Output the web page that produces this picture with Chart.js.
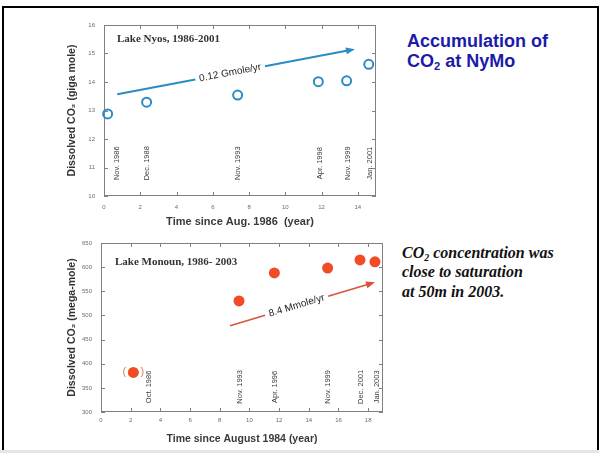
<!DOCTYPE html>
<html>
<head>
<meta charset="utf-8">
<script src="https://cdn.jsdelivr.net/npm/chart.js@4"></script>
<style>
    body { margin: 0; background: #fff; }
    #page { position: relative; width: 599px; height: 453px; overflow: hidden; background: #fff; }
    .frame { position: absolute; left: 2px; top: 6px; width: 593px; height: 450px; border: 2px solid #000; border-bottom: none; }
    .strip { position: absolute; left: 0; top: 450px; width: 599px; height: 3px; background: #e6e6e6; }
    canvas { position: absolute; left: 0; }
    #nyos { top: 0; }
    #monoun { top: 230px; }
    .heading { position: absolute; left: 407px; top: 31px; font: bold 18px "Liberation Sans", Arial, sans-serif; line-height: 20px; color: #1b1ba8; }
    .note { position: absolute; left: 402px; top: 243px; font: italic bold 16px "Liberation Serif", "Times New Roman", serif; line-height: 19.3px; color: #111; }
    sub { font-size: 0.62em; vertical-align: -0.28em; line-height: 0; }
</style>
</head>
<body>
<div id="page">
    <canvas id="nyos" width="400" height="235"></canvas>
    <canvas id="monoun" width="400" height="223"></canvas>
    <div class="heading">Accumulation of<br>CO<sub>2</sub> at NyMo</div>
    <div class="note">CO<sub>2</sub> concentration was<br>close to saturation<br>at 50m in 2003.</div>
    <div class="frame"></div>
    <div class="strip"></div>
</div>
<script>
// Lake Nyos, top panel
const nyosYears = [0.2, 2.35, 7.37, 11.82, 13.38, 14.6];
const nyosCO2 = [12.88, 13.29, 13.54, 14.01, 14.04, 14.62];
const nyosDates = ['Nov. 1986', 'Dec. 1988', 'Nov. 1993', 'Apr. 1998', 'Nov. 1999', 'Jan. 2001'];
const nyosDateAt = [0.72, 2.39, 7.4, 11.91, 13.48, 14.64];
const nyosXTicks = [0, 2, 4, 6, 8, 10, 12, 14];
const nyosYTicks = [10, 11, 12, 13, 14, 15, 16];
const nyosTrend = [[0.73, 13.57], [13.84, 15.15]];

// Lake Monoun, bottom panel
const monounYears = [2.18, 9.3, 11.68, 15.27, 17.45, 18.46];
const monounCO2 = [382, 530, 588, 598, 615, 611];
const monounDates = ['Oct. 1986', 'Nov. 1993', 'Apr. 1996', 'Nov. 1999', 'Dec. 2001', 'Jan. 2003'];
const monounDateAt = [3.25, 9.37, 11.73, 15.32, 17.52, 18.58];
const monounXTicks = [0, 2, 4, 6, 8, 10, 12, 14, 16, 18];
const monounYTicks = [300, 350, 400, 450, 500, 550, 600, 650];
const monounTrend = [[8.69, 478.7], [18.46, 568.6]];

const SANS = '"Liberation Sans", Arial, sans-serif';
const SERIF = '"Liberation Serif", "Times New Roman", serif';

// frame with inward ticks, panel label, date labels and trend arrow
const decor = {
    id: 'decor',
    beforeDatasetsDraw(chart, args, o) {
        const { ctx, chartArea: a, scales: { x, y } } = chart;
        const line = (x1, y1, x2, y2) => { ctx.beginPath(); ctx.moveTo(x1, y1); ctx.lineTo(x2, y2); ctx.stroke(); };
        ctx.save();
        ctx.strokeStyle = '#808080';
        ctx.lineWidth = 1;
        ctx.strokeRect(a.left + 0.5, a.top + 0.5, a.width - 1, a.height - 1);
        x.ticks.forEach(t => {
            const px = Math.round(x.getPixelForValue(t.value)) + 0.5;
            line(px, a.bottom, px, a.bottom - 4);
            line(px, a.top, px, a.top + 4);
        });
        y.ticks.forEach(t => {
            const py = Math.round(y.getPixelForValue(t.value)) + 0.5;
            line(a.left, py, a.left + 4, py);
            line(a.right, py, a.right - 4, py);
        });

        ctx.fillStyle = '#333';
        ctx.font = 'bold 11px ' + SERIF;
        ctx.textBaseline = 'alphabetic';
        ctx.fillText(o.site, a.left + o.siteDx, a.top + o.siteDy);

        ctx.font = '7.5px ' + SANS;
        ctx.fillStyle = '#3a3a3a';
        o.dates.forEach((d, i) => {
            ctx.save();
            ctx.translate(x.getPixelForValue(o.dateAt[i]), y.getPixelForValue(o.dateY));
            ctx.rotate(-Math.PI / 2);
            ctx.textAlign = 'center';
            ctx.textBaseline = 'middle';
            ctx.fillText(d, 0, 0);
            ctx.restore();
        });

        // trend arrow, broken where the rate text sits
        const x0 = x.getPixelForValue(o.trend[0][0]), y0 = y.getPixelForValue(o.trend[0][1]);
        const x1 = x.getPixelForValue(o.trend[1][0]), y1 = y.getPixelForValue(o.trend[1][1]);
        const ang = Math.atan2(y1 - y0, x1 - x0);
        const len = Math.hypot(x1 - x0, y1 - y0);
        ctx.translate(x0, y0);
        ctx.rotate(ang);
        ctx.font = '10px ' + SANS;
        const w = ctx.measureText(o.rate).width;
        const mid = len * o.rateAt;
        ctx.strokeStyle = o.arrowColor;
        ctx.fillStyle = o.arrowColor;
        ctx.lineWidth = o.arrowWidth;
        line(0, 0, mid - w / 2 - 4, 0);
        line(mid + w / 2 + 4, 0, len - 6, 0);
        ctx.beginPath();
        ctx.moveTo(len, 0);
        ctx.lineTo(len - 9, -3.5);
        ctx.lineTo(len - 9, 3.5);
        ctx.closePath();
        ctx.fill();
        ctx.fillStyle = '#222';
        ctx.textAlign = 'center';
        ctx.textBaseline = 'middle';
        ctx.fillText(o.rate, mid, 0);
        ctx.restore();

        if (o.bracket != null) {
            const bx = x.getPixelForValue(chart.data.datasets[0].data[o.bracket].x);
            const by = y.getPixelForValue(chart.data.datasets[0].data[o.bracket].y);
            ctx.save();
            ctx.fillStyle = '#e07a60';
            ctx.font = '11px ' + SANS;
            ctx.textAlign = 'center';
            ctx.textBaseline = 'middle';
            ctx.fillText('(', bx - 9, by);
            ctx.fillText(')', bx + 9, by);
            ctx.restore();
        }
    }
};

function scatterPanel(id, p) {
    return new Chart(document.getElementById(id), {
        type: 'scatter',
        data: {
            datasets: [{
                data: p.xs.map((v, i) => ({ x: v, y: p.ys[i] })),
                pointRadius: p.radius,
                pointHoverRadius: p.radius,
                pointBorderWidth: p.borderWidth,
                pointBorderColor: p.color,
                pointBackgroundColor: p.fill,
                clip: false
            }]
        },
        options: {
            responsive: false,
            animation: false,
            devicePixelRatio: 1,
            layout: { padding: p.padding },
            plugins: {
                legend: { display: false },
                tooltip: { enabled: false },
                decor: p.decor
            },
            scales: {
                x: {
                    type: 'linear',
                    min: 0,
                    max: p.xMax,
                    afterBuildTicks: s => { s.ticks = p.xTicks.map(v => ({ value: v })); },
                    afterFit: s => { s.height = p.xHeight; },
                    grid: { display: false, drawTicks: false },
                    border: { display: false },
                    ticks: { font: { size: 6, family: SANS }, color: '#6a6a6a', padding: p.xPad, maxRotation: 0, autoSkip: false },
                    title: { display: true, text: p.xTitle, color: '#3a3a3a', font: { size: p.xTitleSize, weight: 'bold', family: SANS }, padding: { top: 0, bottom: p.xTitlePad } }
                },
                y: {
                    type: 'linear',
                    min: p.yTicks[0],
                    max: p.yTicks[p.yTicks.length - 1],
                    afterBuildTicks: s => { s.ticks = p.yTicks.map(v => ({ value: v })); },
                    afterFit: s => { s.width = p.yWidth; },
                    grid: { display: false, drawTicks: false },
                    border: { display: false },
                    ticks: { font: { size: 6, family: SANS }, color: '#6a6a6a', padding: 9, autoSkip: false },
                    title: { display: true, text: p.yTitle, color: '#333', font: { size: 10.5, weight: 'bold', family: SANS }, padding: { top: 66, bottom: 0 } }
                }
            }
        },
        plugins: [decor]
    });
}

scatterPanel('nyos', {
    xs: nyosYears, ys: nyosCO2,
    radius: 4.5, borderWidth: 2, color: '#2b8cc4', fill: 'rgba(255,255,255,0)',
    padding: { left: 0, top: 25, right: 24, bottom: 0 },
    xMax: 15, xTicks: nyosXTicks, yTicks: nyosYTicks,
    xHeight: 39, yWidth: 104, xPad: 7.5, xTitlePad: 6.5, xTitleSize: 11,
    xTitle: 'Time since Aug. 1986  (year)',
    yTitle: 'Dissolved CO\u2082 (giga mole)',
    decor: {
        site: 'Lake Nyos, 1986-2001', siteDx: 13, siteDy: 17,
        dates: nyosDates, dateAt: nyosDateAt, dateY: 11.15,
        trend: nyosTrend, rate: '0.12 Gmole/yr', rateAt: 0.475,
        arrowColor: '#2b8cc4', arrowWidth: 2
    }
});

scatterPanel('monoun', {
    xs: monounYears, ys: monounCO2,
    radius: 5.5, borderWidth: 0, color: '#f04c26', fill: '#f04c26',
    padding: { left: 0, top: 13, right: 17, bottom: 0 },
    xMax: 19, xTicks: monounXTicks, yTicks: monounYTicks,
    xHeight: 41, yWidth: 101, xPad: 5, xTitlePad: 8, xTitleSize: 10.5,
    xTitle: 'Time since August 1984 (year)',
    yTitle: 'Dissolved CO\u2082 (mega-mole)',
    decor: {
        site: 'Lake Monoun, 1986- 2003', siteDx: 14, siteDy: 22,
        dates: monounDates, dateAt: monounDateAt, dateY: 352,
        trend: monounTrend, rate: '8.4 Mmole/yr', rateAt: 0.46,
        arrowColor: '#d9533a', arrowWidth: 1.5,
        bracket: 0
    }
});
</script>
</body>
</html>
